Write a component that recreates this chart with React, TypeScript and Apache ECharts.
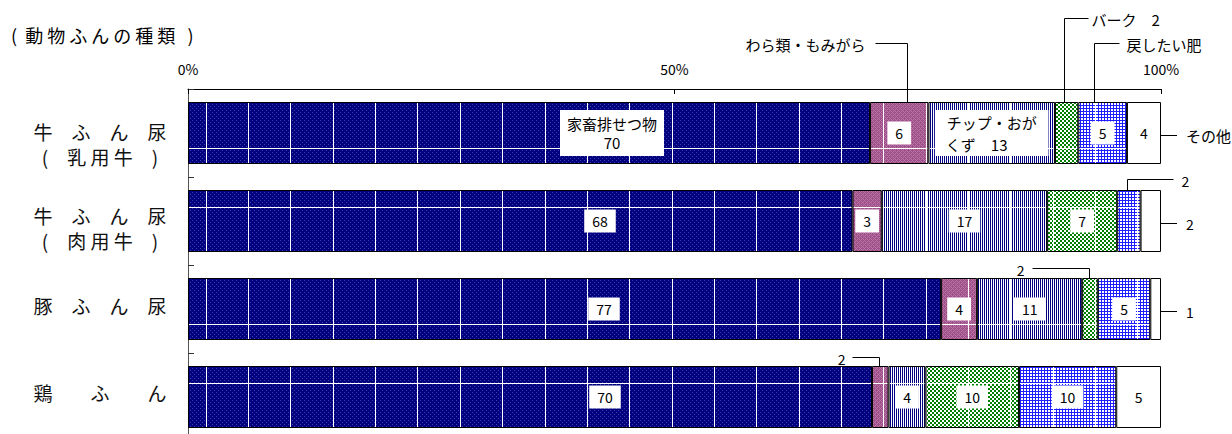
import React, { useEffect, useRef } from 'react';
import * as echarts from 'echarts';

const FONT = "'Noto Sans CJK JP', 'Noto Sans', sans-serif";

const categories = ['牛ふん尿（乳用牛）', '牛ふん尿（肉用牛）', '豚ふん尿', '鶏ふん'];
const categoryLabels = [
  '牛　ふ　ん　尿\n(　乳\u00a0用\u00a0牛　)',
  '牛　ふ　ん　尿\n(　肉\u00a0用\u00a0牛　)',
  '豚　ふ　ん　尿',
  '鶏　　ふ　　ん',
];
const seriesNames = ['家畜排せつ物', 'わら類・もみがら', 'チップ・おがくず', 'バーク', '戻したい肥', 'その他'];

// percentages per category (乳用牛, 肉用牛, 豚, 鶏)
const livestock = [70.1, 68.3, 77.4, 70.3];
const straw = [6.0, 3.0, 3.7, 1.7];
const chips = [13.0, 17.0, 10.8, 3.8];
const bark = [2.4, 7.2, 1.6, 9.6];
const compost = [5.0, 2.4, 5.4, 10.0];
const other = [3.5, 2.1, 1.1, 4.6];

const xTicks = [0, 50, 100];
const titleText = '(\u00a0\u00a0動\u00a0物\u00a0ふ\u00a0ん\u00a0の\u00a0種\u00a0類\u00a0\u00a0\u00a0)';

const seriesValues = [livestock, straw, chips, bark, compost, other];

const insideLabelShown = [
  [true, true, true, true],
  [true, true, true, false],
  [true, true, true, true],
  [false, true, false, true],
  [true, false, true, true],
  [true, false, false, true],
];

const textureKinds = ['navy', 'mauve', 'vstripe', 'checker', 'grid', 'white'];

function makeTexture(kind: string): string | null {
  if (kind === 'white') return null;
  const w = 1232;
  const h = 176;
  const c = document.createElement('canvas');
  c.width = w;
  c.height = h;
  const ctx = c.getContext('2d');
  if (!ctx) return null;
  const img = ctx.createImageData(w, h);
  const d = img.data;
  const vlines = new Set<number>();
  for (let n = 0; ; n++) {
    const x = Math.round(205.7 + 42.35 * n);
    if (x >= w) break;
    vlines.add(x);
  }
  for (let y = 0; y < h; y++) {
    for (let x = 0; x < w; x++) {
      let r = 255, g = 255, b = 255;
      if (kind === 'navy') {
        r = 0; g = 0; b = 128;
        if ((x % 4 === 0 && y % 4 === 0) || (x % 4 === 2 && y % 4 === 2)) { r = 64; g = 64; b = 160; }
      } else if (kind === 'mauve') {
        r = 158; g = 78; b = 136;
        if ((x + y) % 4 === 0 || (x - y + 4000) % 4 === 0) { r = 186; g = 118; b = 165; }
      } else if (kind === 'vstripe') {
        if (x % 2 === 0) { r = 0; g = 0; b = 128; }
      } else if (kind === 'checker') {
        if (((x >> 1) + (y >> 1)) % 2 === 0) { r = 0; g = 128; b = 0; }
      } else if (kind === 'grid') {
        if (x % 3 === 0 || y % 3 === 0) { r = 30; g = 30; b = 255; }
      }
      if (vlines.has(x) || y === 148 || y === 31) { r = 255; g = 255; b = 255; }
      const i = (y * w + x) * 4;
      d[i] = r; d[i + 1] = g; d[i + 2] = b; d[i + 3] = 255;
    }
  }
  ctx.putImageData(img, 0, 0);
  return c.toDataURL();
}

const round = (v: number) => String(Math.round(v));

export default function App() {
  const ref = useRef<HTMLDivElement>(null);

  useEffect(() => {
    if (!ref.current) return;
    const chart = echarts.init(ref.current, null, { renderer: 'svg' });

    const baseLabel = {
      color: '#000',
      fontSize: 14,
      fontFamily: FONT,
      backgroundColor: '#fff',
      padding: [3, 8],
      lineHeight: 17,
    };
    const livestockLabelX = [424, 412, 416, 417];

    const series = seriesValues.map((vals, k) => {
      const tex = makeTexture(textureKinds[k]);
      const color = tex
        ? { image: tex, repeat: 'repeat', imageWidth: 1232, imageHeight: 176 }
        : '#ffffff';
      return {
        name: seriesNames[k],
        type: 'bar',
        stack: 'total',
        barWidth: 62,
        itemStyle: { color, borderColor: '#000', borderWidth: 1 },
        emphasis: { disabled: true },
        data: vals.map((v, i) => {
          const show = insideLabelShown[k][i];
          let label: any = { ...baseLabel, show, formatter: round(v) };
          if (k === 0) {
            label.position = [livestockLabelX[i], '50%'];
            label.align = 'center';
            label.verticalAlign = 'middle';
            if (i === 0) {
              label = { ...label, formatter: seriesNames[0] + '\n' + round(v), fontSize: 15, lineHeight: 19, padding: [4, 7] };
            }
          }
          if (k === 2 && i === 0) {
            label = { ...label, formatter: 'チップ・おが\nくず　' + round(v) + '　　', fontSize: 15, lineHeight: 22, padding: [1, 11] };
          }
          return { value: v, label };
        }),
      };
    });

    chart.setOption({
      animation: false,
      grid: { left: 188, top: 89, width: 973, height: 352, containLabel: false, outerBoundsMode: 'none' },
      xAxis: {
        type: 'value',
        position: 'top',
        min: xTicks[0],
        max: xTicks[xTicks.length - 1],
        interval: xTicks[1] - xTicks[0],
        axisLine: { show: true, lineStyle: { color: '#000', width: 1 } },
        axisTick: { show: true, inside: true, length: 5, lineStyle: { color: '#000' } },
        axisLabel: { formatter: '{value}%', margin: 13, fontSize: 14, color: '#000', fontFamily: FONT },
        splitLine: { show: false },
      },
      yAxis: {
        type: 'category',
        inverse: true,
        data: categories,
        axisLine: { show: true, lineStyle: { color: '#555', width: 1 } },
        axisTick: { show: true, inside: true, length: 6, lineStyle: { color: '#333' } },
        axisLabel: { show: false },
      },
      series,
    });

    const px = (v: number, i: number) => chart.convertToPixel({ gridIndex: 0 } as any, [v, i]) as number[];
    const snap = (v: number) => Math.round(v) + 0.5;
    const halfBar = 31;
    const segCenter = (k: number, i: number) => {
      let s = 0;
      for (let j = 0; j < k; j++) s += seriesValues[j][i];
      return s + seriesValues[k][i] / 2;
    };

    const elements: any[] = [];
    const addText = (x: number, y: number, text: string, align: string, fontSize: number) => {
      elements.push({
        type: 'text',
        x,
        y,
        silent: true,
        style: {
          text,
          fill: '#000',
          fontSize,
          fontFamily: FONT,
          align,
          textAlign: align,
          verticalAlign: 'middle',
          textVerticalAlign: 'middle',
        },
      });
    };
    const addLine = (pts: number[][]) => {
      elements.push({
        type: 'polyline',
        silent: true,
        shape: { points: pts },
        style: { stroke: '#000', lineWidth: 1, fill: null },
      });
    };

    // title
    addText(11, 35, titleText, 'left', 18);

    // category labels
    const catOffsets = [11, 7, -4, -5];
    categories.forEach((_, i) => {
      const p = px(0, i);
      elements.push({
        type: 'text',
        x: 100,
        y: p[1] + catOffsets[i],
        silent: true,
        style: {
          text: categoryLabels[i],
          fill: '#111',
          fontSize: 19,
          lineHeight: 25,
          fontFamily: FONT,
          align: 'center',
          textAlign: 'center',
          verticalAlign: 'middle',
          textVerticalAlign: 'middle',
        },
      });
    });

    // callouts above segments
    const above = [
      { k: 1, i: 0, dx: 8, rise: 59, dir: -1, len: 32, gap: 10, text: seriesNames[1], fs: 15 },
      { k: 3, i: 0, dx: -3, rise: 84, dir: 1, len: 24, gap: 3, text: seriesNames[3] + '　' + round(bark[0]), fs: 15 },
      { k: 4, i: 0, dx: -9, rise: 59, dir: 1, len: 25, gap: 7, text: seriesNames[4], fs: 15 },
      { k: 4, i: 1, dx: -2, rise: 11, dir: 1, len: 46, gap: 8, text: round(compost[1]), fs: 14 },
      { k: 3, i: 2, dx: -1, rise: 10, dir: -1, len: 57, gap: 8, text: round(bark[2]), fs: 14 },
      { k: 1, i: 3, dx: -1, rise: 9, dir: -1, len: 27, gap: 7, text: round(straw[3]), fs: 14 },
    ];
    above.forEach((a) => {
      const p = px(segCenter(a.k, a.i), a.i);
      const x = snap(p[0] + a.dx);
      const top = p[1] - halfBar;
      const y = snap(top - a.rise);
      const xe = x + a.dir * a.len;
      addLine([[x, top], [x, y], [xe, y]]);
      addText(xe + a.dir * a.gap, y + 1, a.text, a.dir > 0 ? 'left' : 'right', a.fs);
    });

    // callouts to the right of bars (その他)
    const right = [
      { i: 0, text: seriesNames[5], fs: 15 },
      { i: 1, text: round(other[1]), fs: 14 },
      { i: 2, text: round(other[2]), fs: 14 },
    ];
    right.forEach((r) => {
      const p = px(xTicks[xTicks.length - 1], r.i);
      const y = snap(p[1] + 2);
      addLine([[p[0] - 2, y], [p[0] + 16, y]]);
      addText(p[0] + 25, y, r.text, 'left', r.fs);
    });

    chart.setOption({ graphic: { elements } });

    return () => chart.dispose();
  }, []);

  return (
    <div style={{ position: 'absolute', left: 0, top: 0, width: 1232, height: 434, overflow: 'hidden', background: '#fff' }}>
      <div ref={ref} style={{ width: 1232, height: 450 }} />
    </div>
  );
}
